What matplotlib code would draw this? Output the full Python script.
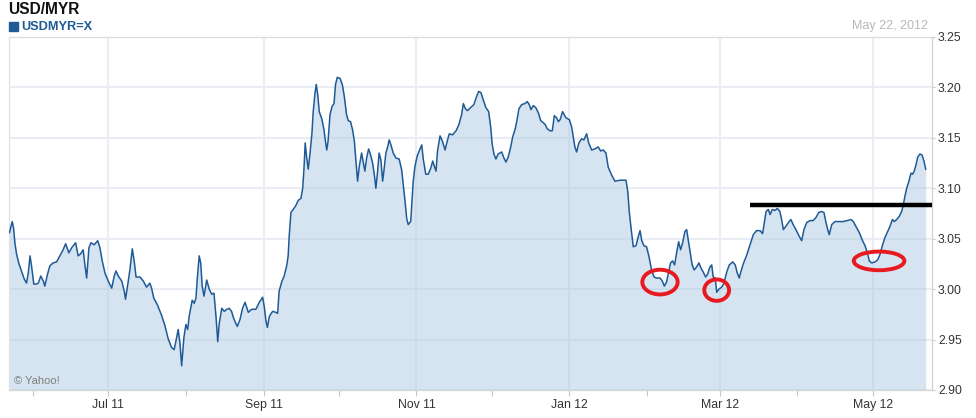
import matplotlib
matplotlib.use("Agg")
import matplotlib.pyplot as plt
import matplotlib.dates as mdates
from matplotlib.patches import Ellipse, Rectangle
import pandas as pd

plt.rcParams["font.family"] = ["Liberation Sans", "DejaVu Sans"]

# USD/MYR close; x is days after 2011-07-01
base_date = "2011-07-01"
days = [
    -39.4, -38.8, -38.3, -37.8, -37.2, -36.6, -35.6, -34.6, -33.5, -32.6, -31.9, -31.2,
    -30.6, -29.7, -28.6, -27.9, -26.9, -25.9, -25.3, -24.3, -23.3, -22.0, -20.6, -19.3,
    -18.0, -17.0, -15.7, -14.6, -13.0, -12.0, -11.0, -10.0, -9.3, -8.6, -7.7, -6.9,
    -5.6, -4.2, -3.3, -2.4, -1.3, 0.0, 1.4, 2.4, 3.1, 4.0, 5.4, 6.4, 6.9, 7.7, 8.7,
    9.6, 10.4, 11.1, 12.7, 14.0, 15.3, 16.6, 17.3, 18.2, 19.7, 21.3, 22.6, 23.9, 25.3,
    26.3, 27.3, 27.9, 28.6, 29.3, 30.2, 31.0, 31.7, 32.3,
    33.5, 34.3, 35.0, 35.5, 36.3, 36.9, 37.5, 38.2, 39.3, 40.3, 41.3, 42.2, 43.0, 43.7,
    44.3, 45.3, 46.3, 47.3, 48.3, 49.2, 50.2, 51.5, 52.6, 53.6, 54.6, 55.9, 57.2, 58.9,
    60.3, 61.6, 62.3, 62.9, 63.5, 64.3, 65.6, 66.9, 67.6, 68.2, 69.2, 70.2, 71.2, 71.8,
    72.2, 72.9, 73.8, 74.9, 75.8, 76.9, 77.6, 78.1, 78.6, 79.2, 79.8, 80.5, 81.3, 81.8,
    82.5, 83.0, 83.6, 84.2, 85.2, 86.1, 86.6, 87.2, 87.7, 88.5, 89.3, 90.1, 90.7, 91.4,
    92.5, 93.4, 94.2, 95.1, 95.8, 96.7, 97.5, 98.2, 98.8, 99.5, 100.2,
    101.1, 101.8, 102.4, 103.1, 103.9, 104.7, 105.5, 106.2, 106.8, 107.5, 108.1, 108.8,
    109.5, 110.0, 110.8, 111.6, 112.1, 112.8, 113.7, 114.8, 116.1, 117.1, 117.7, 118.4,
    119.1, 119.7, 120.7, 121.2, 121.7, 122.4, 123.3, 124.4, 125.1, 125.7, 126.7, 127.7,
    128.7, 129.5, 130.1, 130.8, 131.4, 132.4, 133.3, 134.4, 135.3, 136.1, 137.4, 138.8,
    139.9, 141.0, 141.7, 142.5, 143.3, 144.6, 145.9, 147.0, 147.8, 148.7, 149.6, 150.7,
    151.8, 152.6, 153.2, 153.9, 154.7, 155.6, 157.0, 157.9, 158.7, 159.6, 160.6, 161.4,
    162.3, 163.0, 163.9, 165.0, 166.3, 167.2, 168.0, 168.7, 169.6, 170.6, 171.6, 172.6,
    173.6, 174.4, 175.2, 176.3, 177.2, 178.0, 178.9, 179.6, 180.3, 181.3, 182.6, 184.0,
    184.9, 185.6, 186.2, 186.9, 187.8, 188.9, 189.8, 190.9, 191.7, 192.9, 194.2, 195.5,
    196.5, 197.5, 198.6, 199.5, 200.9, 202.2, 204.2, 206.6, 207.3, 207.9, 208.6, 209.5,
    210.6, 211.5, 212.2, 212.9, 213.8, 214.8, 215.8, 216.8, 217.8, 218.8, 220.2, 221.1,
    221.9, 222.8, 223.6, 224.4, 225.2, 226.0, 226.8, 227.6, 228.4, 229.2, 230.1, 230.8,
    231.5, 232.1, 233.0, 233.8, 234.8, 235.7, 236.5, 237.4, 238.4, 239.2, 240.1, 240.8,
    241.4, 242.2, 242.8, 243.7, 244.8, 245.7, 246.8, 247.8, 249.2, 250.2, 251.0, 251.8,
    252.4, 253.4, 254.8, 256.1, 257.4, 258.7, 260.1, 261.1, 261.8, 262.5, 263.4, 264.1,
    265.0, 266.0, 267.0, 268.0, 268.7, 269.4, 270.3, 271.4, 272.4, 273.3, 274.4, 275.6,
    276.7, 277.6, 278.7, 280.0, 281.3, 282.4, 283.5, 284.7, 285.6, 286.4, 287.1, 287.7,
    288.7, 290.0, 293.3, 296.4, 297.3, 298.4, 299.7, 301.0, 302.0, 302.9, 303.7, 304.6,
    306.0, 307.0, 307.9, 309.0, 309.9, 311.0, 311.9, 312.9, 313.7, 314.6, 315.6, 316.6,
    317.2, 317.9, 318.6, 319.5, 320.3, 321.0, 321.6, 322.3, 323.0, 323.9, 324.7, 325.5,
    326.2,
]
usdmyr = [
    3.056, 3.062, 3.067, 3.061, 3.045, 3.035, 3.025, 3.018, 3.010, 3.006, 3.016, 3.033,
    3.023, 3.005, 3.005, 3.006, 3.013, 3.008, 3.003, 3.014, 3.023, 3.026, 3.027, 3.033,
    3.039, 3.045, 3.036, 3.041, 3.046, 3.033, 3.035, 3.039, 3.024, 3.011, 3.041, 3.046,
    3.044, 3.048, 3.041, 3.028, 3.016, 3.008, 3.001, 3.013, 3.018, 3.013, 3.008, 2.998,
    2.990, 3.003, 3.020, 3.040, 3.027, 3.012, 3.012, 3.008, 3.002, 3.006, 3.001, 2.991,
    2.984, 2.974, 2.964, 2.951, 2.942, 2.940, 2.952, 2.960, 2.947, 2.924, 2.952, 2.965,
    2.960, 2.973,
    2.989, 2.986, 2.991, 3.009, 3.033, 3.026, 3.003, 2.993, 3.009, 3.000, 2.995, 2.996,
    2.973, 2.948, 2.966, 2.981, 2.978, 2.980, 2.981, 2.978, 2.970, 2.963, 2.970, 2.981,
    2.987, 2.977, 2.980, 2.980, 2.987, 2.992, 2.982, 2.969, 2.962, 2.973, 2.978, 2.977,
    2.976, 2.998, 3.007, 3.013, 3.023, 3.033, 3.052, 3.076, 3.079, 3.083, 3.088, 3.090,
    3.100, 3.119, 3.145, 3.130, 3.119, 3.134, 3.155, 3.176, 3.194, 3.203, 3.193, 3.176,
    3.169, 3.158, 3.148, 3.138, 3.146, 3.173, 3.181, 3.184, 3.203, 3.210, 3.209, 3.203,
    3.191, 3.173, 3.167, 3.166, 3.158, 3.147, 3.128, 3.107, 3.122,
    3.135, 3.125, 3.117, 3.130, 3.139, 3.133, 3.125, 3.113, 3.100, 3.117, 3.135, 3.128,
    3.107, 3.117, 3.135, 3.142, 3.148, 3.143, 3.135, 3.130, 3.129, 3.118, 3.104, 3.088,
    3.070, 3.064, 3.067, 3.087, 3.107, 3.122, 3.132, 3.139, 3.143, 3.129, 3.114, 3.114,
    3.120, 3.127, 3.122, 3.117, 3.137, 3.152, 3.147, 3.138, 3.147, 3.154, 3.153, 3.157,
    3.163, 3.173, 3.184, 3.179, 3.177, 3.180, 3.183, 3.191, 3.196, 3.195, 3.188, 3.180,
    3.176, 3.161, 3.144, 3.134, 3.129, 3.134, 3.136, 3.130, 3.126, 3.131, 3.141, 3.151,
    3.158, 3.166, 3.179, 3.183, 3.184, 3.186, 3.183, 3.178, 3.182, 3.180, 3.175, 3.167,
    3.165, 3.163, 3.159, 3.157, 3.157, 3.172, 3.170, 3.166, 3.168, 3.176, 3.170, 3.168,
    3.161, 3.150, 3.141, 3.136, 3.145, 3.149, 3.148, 3.154, 3.145, 3.138, 3.139, 3.141,
    3.137, 3.138, 3.135, 3.121, 3.113, 3.107, 3.108, 3.108, 3.097, 3.077, 3.061, 3.042,
    3.043, 3.052, 3.058, 3.048, 3.043, 3.042, 3.032, 3.019, 3.012, 3.011, 3.011, 3.008,
    3.003, 3.007, 3.017, 3.026, 3.028, 3.024, 3.036, 3.047, 3.039, 3.046, 3.057, 3.059,
    3.048, 3.038, 3.024, 3.019, 3.022, 3.026, 3.021, 3.017, 3.012, 3.015, 3.022, 3.024,
    3.012, 3.011, 2.997, 3.000, 3.002, 3.006, 3.017, 3.024, 3.027, 3.024, 3.016, 3.011,
    3.017, 3.025, 3.034, 3.044, 3.054, 3.058, 3.058, 3.055, 3.066, 3.077, 3.079, 3.074,
    3.079, 3.078, 3.080, 3.077, 3.069, 3.059, 3.062, 3.066, 3.069, 3.064, 3.059, 3.053,
    3.048, 3.059, 3.066, 3.068, 3.068, 3.071, 3.076, 3.077, 3.076, 3.066, 3.059, 3.054,
    3.064, 3.067, 3.067, 3.069, 3.067, 3.062, 3.056, 3.048, 3.043, 3.036, 3.028, 3.026,
    3.027, 3.029, 3.034, 3.044, 3.051, 3.057, 3.062, 3.069, 3.067, 3.069, 3.072, 3.077,
    3.083, 3.092, 3.100, 3.107, 3.115, 3.114, 3.117, 3.123, 3.131, 3.134, 3.133, 3.127,
    3.119,
]

chart_title = "USD/MYR"
symbol = "USDMYR=X"
as_of = "May 22, 2012"
credit = "© Yahoo!"
x_start, x_end = "2011-05-22 05:00", "2012-05-24 14:00"
y_ticks = [2.90, 2.95, 3.00, 3.05, 3.10, 3.15, 3.20, 3.25]

# hand-drawn markup on top of the chart
circle_dates = ["2012-02-06 04:00", "2012-02-28 19:00", "2012-05-03 14:00"]
circle_rates = [3.007, 2.999, 3.028]
resistance_rate = 3.083
resistance_from = "2012-03-13"

base = pd.Timestamp(base_date)
dates = base + pd.to_timedelta(days, unit="D")

fig = plt.figure(figsize=(9.76, 4.18), dpi=100)
ax = fig.add_axes([8.5 / 976, 28 / 418, 923.2 / 976, 353 / 418])

line_blue = "#1f5a96"
ax.fill_between(dates, usdmyr, y_ticks[0], color="#a3c5de", alpha=0.45, lw=0, zorder=2)
ax.plot(dates, usdmyr, color=line_blue, lw=1.1, zorder=3)

ax.set_xlim(pd.Timestamp(x_start), pd.Timestamp(x_end))
ax.set_ylim(y_ticks[0], y_ticks[-1])

# x: label every other month, small tick each month
ax.xaxis.set_major_locator(mdates.MonthLocator(bymonth=[1, 3, 5, 7, 9, 11]))
ax.xaxis.set_major_formatter(mdates.DateFormatter("%b %y"))
ax.xaxis.set_minor_locator(mdates.MonthLocator())
ax.tick_params(axis="x", which="both", length=4, width=0.8, color="#c8c8c8",
               labelsize=8.8, labelcolor="#333333", pad=2.5)

ax.yaxis.tick_right()
ax.set_yticks(y_ticks)
ax.set_yticklabels([f"{t:.2f}" for t in y_ticks])
ax.tick_params(axis="y", length=2.5, width=0.8, color="#c8c8c8",
               labelsize=8.8, labelcolor="#333333", pad=2)

ax.grid(True, which="major", color="#e8edf3", lw=1.3, zorder=1)
ax.set_axisbelow(True)
for side, col in [("top", "#dcdcdc"), ("left", "#e2e2e2"),
                  ("right", "#d0d0d0"), ("bottom", "#d6d6d6")]:
    ax.spines[side].set_color(col)
    ax.spines[side].set_linewidth(0.9)

# red circles and black resistance line
ellipse_w = [14.1, 9.9, 20.2]
ellipse_h = [0.0245, 0.0212, 0.0185]
for d, r, w, h in zip(circle_dates, circle_rates, ellipse_w, ellipse_h):
    ax.add_patch(Ellipse((mdates.date2num(pd.Timestamp(d)), r), w, h,
                         fill=False, ec="#e8191f", lw=2.8, zorder=5))
ax.hlines(resistance_rate, pd.Timestamp(resistance_from), pd.Timestamp(x_end),
          color="black", lw=3.2, zorder=5, clip_on=False)

ax.text(0.006, 0.012, credit, transform=ax.transAxes, fontsize=8,
        color="#808080", va="bottom", ha="left", zorder=6)

fig.text(8 / 976, 1 - 10 / 418, chart_title, fontsize=11.2, fontweight="bold",
         color="#111111", va="center", ha="left")
fig.patches.append(Rectangle((8.5 / 976, 1 - 30.7 / 418), 9.5 / 976, 9 / 418,
                             transform=fig.transFigure, color=line_blue))
fig.text(21 / 976, 1 - 26.5 / 418, symbol, fontsize=9.2, fontweight="bold",
         color=line_blue, va="center", ha="left")
fig.text(928 / 976, 1 - 26 / 418, as_of, fontsize=9, color="#b8b8b8",
         va="center", ha="right")

fig.savefig("out.png", dpi=100)
